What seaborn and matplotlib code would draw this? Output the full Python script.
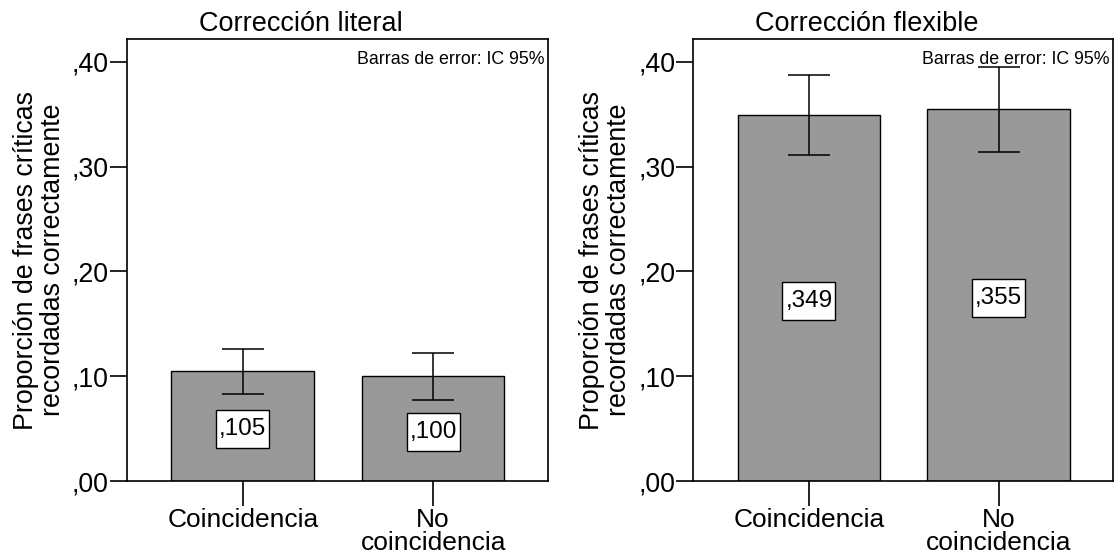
import matplotlib
matplotlib.use("Agg")
import matplotlib.pyplot as plt
from matplotlib.path import Path
import seaborn as sns
import numpy as np
import pandas as pd

# Data
categories = ["Coincidencia", "No\ncoincidencia"]
panel_titles = ["Corrección literal", "Corrección flexible"]
literal_means = [0.105, 0.100]
literal_ci_low = [0.083, 0.077]
literal_ci_high = [0.126, 0.122]
flexible_means = [0.349, 0.355]
flexible_ci_low = [0.311, 0.314]
flexible_ci_high = [0.387, 0.395]
bar_labels_literal = [",105", ",100"]
bar_labels_flexible = [",349", ",355"]
yticks = [0.0, 0.1, 0.2, 0.3, 0.4]
ytick_labels = [",00", ",10", ",20", ",30", ",40"]
ylabel = "Proporción de frases críticas\nrecordadas correctamente"
note = "Barras de error: IC 95%"

sns.set_style("white")
plt.rcParams["font.family"] = ["Liberation Sans", "DejaVu Sans"]
for k in ["text.color", "axes.labelcolor", "xtick.color", "ytick.color"]:
    plt.rcParams[k] = "black"


def label_box(x0, y0, width, height, mutation_size):
    px = 0.12 * mutation_size
    py = 0.33 * mutation_size
    x0, y0 = x0 - px, y0 - py
    x1, y1 = x0 + width + 2 * px, y0 + height + 2 * py
    return Path([(x0, y0), (x1, y0), (x1, y1), (x0, y1), (x0, y0)],
                [Path.MOVETO, Path.LINETO, Path.LINETO, Path.LINETO, Path.CLOSEPOLY])


fig = plt.figure(figsize=(11.15, 5.59), dpi=100)
ax1 = fig.add_axes([0.1137, 0.1394, 0.4917 - 0.1137, 0.9297 - 0.1394])
ax2 = fig.add_axes([0.6217, 0.1394, 0.9985 - 0.6217, 0.9297 - 0.1394])

panels = [
    (ax1, panel_titles[0], literal_means, literal_ci_low, literal_ci_high, bar_labels_literal),
    (ax2, panel_titles[1], flexible_means, flexible_ci_low, flexible_ci_high, bar_labels_flexible),
]

for ax, title, means, lo, hi, labels in panels:
    df = pd.DataFrame({"cat": categories, "val": means})
    sns.barplot(data=df, x="cat", y="val", ax=ax, color="#999999",
                saturation=1, edgecolor="black", linewidth=1.0,
                width=0.75, errorbar=None)
    pos = np.arange(len(categories))
    means_a = np.array(means)
    yerr = [means_a - np.array(lo), np.array(hi) - means_a]
    ax.errorbar(pos, means_a, yerr=yerr, fmt="none", ecolor="black",
                elinewidth=1.1, capsize=15, capthick=1.1, zorder=5)
    for p, m, lab in zip(pos, means, labels):
        ax.text(p, m / 2 - 0.003, lab, ha="center", va="center", fontsize=17.5,
                bbox=dict(boxstyle=label_box, facecolor="white",
                          edgecolor="black", linewidth=1.0), zorder=6)
    ax.set_xlim(-0.61, 1.605)
    ax.set_ylim(0, 0.4215)
    ax.set_yticks(yticks)
    ax.set_yticklabels(ytick_labels, fontsize=19.3)
    ax.set_xticks(pos)
    ax.set_xticklabels(categories, fontsize=19, linespacing=0.92)
    ax.tick_params(axis="y", direction="out", length=12, width=1.2, pad=1, left=True)
    ax.tick_params(axis="x", direction="out", length=18, width=1.2, pad=1.5, bottom=True)
    ax.set_xlabel("")
    ax.set_ylabel(ylabel, fontsize=19.3, linespacing=1.05)
    ax.yaxis.label.set_va("center")
    ax.yaxis.set_label_coords(-0.208, 0.5)
    for s in ax.spines.values():
        s.set_visible(True)
        s.set_color("black")
        s.set_linewidth(1.2)
    ax.set_title(title, fontsize=19.5, x=0.414, pad=6)
    ax.text(0.99, 0.955, note, transform=ax.transAxes, ha="right", va="center",
            fontsize=12.8, zorder=7)

fig.savefig("out.png", dpi=100, facecolor="white")
